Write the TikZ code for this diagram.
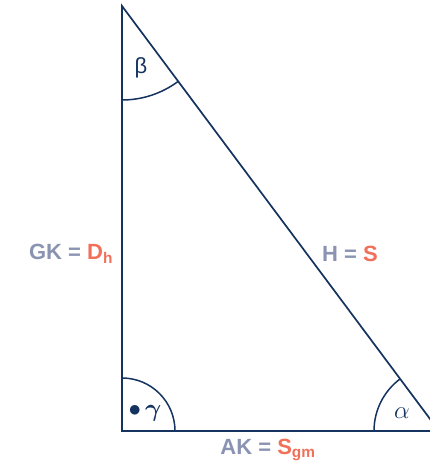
\documentclass[tikz,border=0pt]{standalone}
\usepackage{amsmath}
\usepackage{amssymb}
\usepackage{bm}
\usepackage{fontspec}
\setmainfont{Liberation Sans}
\usetikzlibrary{angles}
\definecolor{navy}{HTML}{14335F}
\definecolor{greytxt}{HTML}{8A93B2}
\definecolor{redtxt}{HTML}{F0705A}
\begin{document}
\begin{tikzpicture}[x=1pt, y=1pt,
    side/.style={draw=navy, line width=1.7pt},
    arcline/.style={draw=navy, line width=1.5pt},
    sidelabel/.style={font=\fontsize{22}{24}\selectfont\bfseries, text=greytxt, inner sep=0pt},
    anglelabel/.style={font=\fontsize{25}{28}\selectfont, text=navy, inner sep=0pt}
]
\useasboundingbox (0,0) rectangle (430,464);
\clip (0,0) rectangle (430,464);
% corners
\coordinate (top) at (122,458);
\coordinate (rect) at (122,33);
\coordinate (right) at (439,33);
\draw[side] (top) -- (rect) -- (right) -- cycle;
% angles
\pic[arcline, angle radius=94pt] {angle = rect--top--right};
\pic[arcline, angle radius=53pt] {angle = right--rect--top};
\pic[arcline, angle radius=65pt] {angle = top--right--rect};
\node[anglelabel, font=\fontsize{22}{24}\selectfont] (beta) at (141,396) {β};
\node[anglelabel] (gamma) at (145,51) {$\bullet\,\bm{\gamma}$};
\node[anglelabel] (alpha) at (402,51) {$\alpha$};
% sides
\node[sidelabel] (gk) at (71,210) {GK = {\color{redtxt}D\textsubscript{h}}};
\node[sidelabel] (hyp) at (350,210) {H = {\color{redtxt}S}};
\node[sidelabel] (ak) at (268,14) {AK = {\color{redtxt}S\textsubscript{gm}}};
\end{tikzpicture}
\end{document}
